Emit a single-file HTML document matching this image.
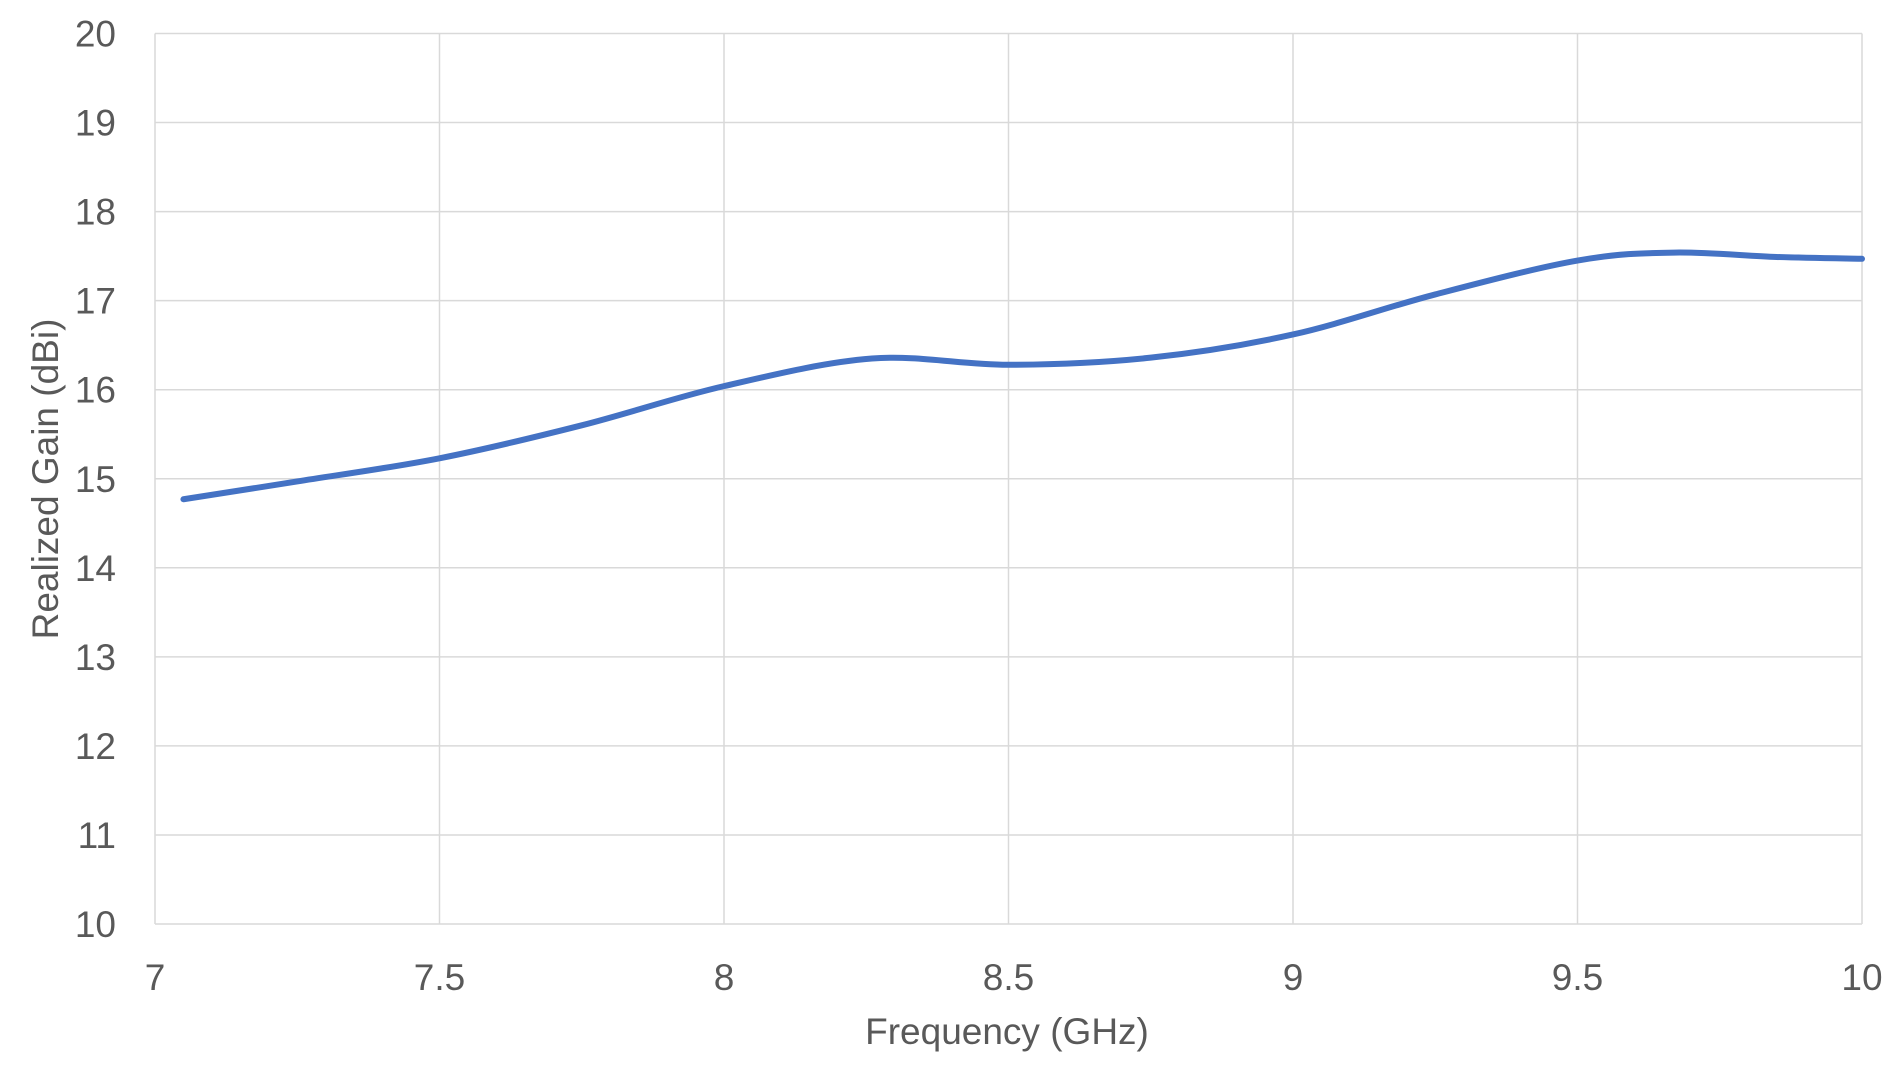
<!DOCTYPE html>
<html><head><meta charset="utf-8"><style>
html,body{margin:0;padding:0;background:#fff;}
svg{display:block;font-family:"Liberation Sans",sans-serif;}
</style></head><body>
<svg id="chart" width="1900" height="1076" viewBox="0 0 1900 1076">
<g id="grid"></g>
<g id="yticks"></g>
<g id="xticks"></g>
<path id="line" fill="none" stroke="#4472C4" stroke-width="6" stroke-linecap="round" stroke-linejoin="round"/>
<text x="1007" y="1044" text-anchor="middle" font-size="37" fill="#595959">Frequency (GHz)</text>
<text x="0" y="0" transform="translate(58,479) rotate(-90)" text-anchor="middle" font-size="37" fill="#595959">Realized Gain (dBi)</text>
</svg>
<script>
const freqs=[7.05,7.25,7.5,7.75,8.0,8.26,8.5,8.75,9.0,9.25,9.5,9.67,9.85,10.0];
const gains=[14.77,14.97,15.23,15.6,16.04,16.35,16.28,16.36,16.62,17.07,17.45,17.54,17.49,17.47];
const xTicks=[7,7.5,8,8.5,9,9.5,10];
const yTicks=[10,11,12,13,14,15,16,17,18,19,20];
const L=155,R=1862,T=33.5,B=924;
const xs=v=>L+(v-7)/3*(R-L);
const ys=v=>B-(v-10)/10*(B-T);
const NS="http://www.w3.org/2000/svg";
const grid=document.getElementById('grid'),yt=document.getElementById('yticks'),xt=document.getElementById('xticks');
yTicks.forEach(v=>{
 const l=document.createElementNS(NS,'line');
 
 
 l.setAttribute('x1',L);l.setAttribute('x2',R);l.setAttribute('y1',ys(v));l.setAttribute('y2',ys(v));
 l.setAttribute('stroke','#d9d9d9');l.setAttribute('stroke-width','1.5');grid.appendChild(l);
 const t=document.createElementNS(NS,'text');
 
 
 t.setAttribute('x',116);t.setAttribute('y',ys(v)+13);t.setAttribute('text-anchor','end');
 t.setAttribute('font-size','37');t.setAttribute('fill','#595959');t.textContent=v;yt.appendChild(t);
});
xTicks.forEach(v=>{
 const l=document.createElementNS(NS,'line');
 
 
 l.setAttribute('x1',xs(v));l.setAttribute('x2',xs(v));l.setAttribute('y1',T);l.setAttribute('y2',B);
 l.setAttribute('stroke','#d9d9d9');l.setAttribute('stroke-width','1.5');grid.appendChild(l);
 const t=document.createElementNS(NS,'text');
 
 
 t.setAttribute('x',xs(v));t.setAttribute('y',990);t.setAttribute('text-anchor','middle');
 t.setAttribute('font-size','37');t.setAttribute('fill','#595959');t.textContent=v;xt.appendChild(t);
});
const P=freqs.map((f,i)=>[xs(f),ys(gains[i])]);
let d='M'+P[0][0]+','+P[0][1];
for(let i=0;i<P.length-1;i++){
 const p0=P[i-1]||P[i],p1=P[i],p2=P[i+1],p3=P[i+2]||P[i+1];
 const c1=[p1[0]+(p2[0]-p0[0])/6,p1[1]+(p2[1]-p0[1])/6];
 const c2=[p2[0]-(p3[0]-p1[0])/6,p2[1]-(p3[1]-p1[1])/6];
 d+=' C'+c1[0]+','+c1[1]+' '+c2[0]+','+c2[1]+' '+p2[0]+','+p2[1];
}
document.getElementById('line').setAttribute('d',d);
</script>
</body></html>
